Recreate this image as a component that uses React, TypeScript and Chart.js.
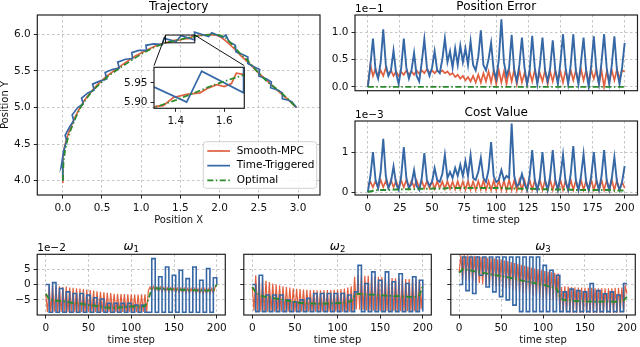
import React, { useEffect, useRef } from 'react';
import { Chart, registerables } from 'chart.js';

Chart.register(...registerables);

// ---------------- data ----------------
const legendLabels = ['Smooth-MPC', 'Time-Triggered', 'Optimal'];

// Trajectory (Position X / Position Y)
const trajOptX = [0.00, 0.01, 0.03, 0.06, 0.10, 0.16, 0.22, 0.30, 0.38, 0.48, 0.58, 0.70, 0.84, 1.00, 1.16, 1.32, 1.40, 1.48, 1.56, 1.64, 1.72, 1.80, 1.92, 2.00, 2.08, 2.16, 2.26, 2.36, 2.48, 2.60, 2.72, 2.84, 2.98];
const trajOptY = [4.00, 4.25, 4.42, 4.56, 4.69, 4.85, 4.99, 5.12, 5.23, 5.33, 5.43, 5.52, 5.62, 5.73, 5.82, 5.888, 5.905, 5.925, 5.945, 5.962, 5.978, 5.99, 6.00, 5.99, 5.95, 5.86, 5.74, 5.64, 5.49, 5.36, 5.26, 5.15, 5.00];
const trajMpcX = [0.00, 0.00, 0.02, 0.05, 0.09, 0.14, 0.20, 0.27, 0.35, 0.44, 0.54, 0.65, 0.78, 0.92, 1.06, 1.20, 1.318, 1.348, 1.39, 1.445, 1.50, 1.53, 1.57, 1.60, 1.63, 1.65, 1.68, 1.76, 1.86, 1.95, 2.02, 2.09, 2.17, 2.27, 2.38, 2.50, 2.62, 2.74, 2.86, 2.98];
const trajMpcY = [3.97, 4.30, 4.45, 4.58, 4.70, 4.83, 4.96, 5.09, 5.20, 5.31, 5.41, 5.50, 5.60, 5.70, 5.78, 5.85, 5.889, 5.891, 5.912, 5.92, 5.924, 5.935, 5.945, 5.94, 5.948, 5.975, 5.972, 5.985, 5.995, 5.99, 5.96, 5.90, 5.82, 5.71, 5.60, 5.47, 5.35, 5.23, 5.12, 5.00];
const trajTtX = [0.00, 0.00, -0.02, 0.01, 0.05, 0.03, 0.09, 0.14, 0.12, 0.19, 0.26, 0.24, 0.32, 0.40, 0.38, 0.47, 0.56, 0.54, 0.63, 0.72, 0.70, 0.80, 0.89, 0.88, 0.97, 1.07, 1.06, 1.16, 1.27, 1.29, 1.445, 1.507, 1.68, 1.68, 1.86, 1.90, 2.04, 2.08, 2.12, 2.20, 2.21, 2.30, 2.36, 2.36, 2.45, 2.51, 2.50, 2.60, 2.66, 2.65, 2.74, 2.80, 2.80, 2.88, 2.92, 2.98];
const trajTtY = [4.00, 4.24, 4.19, 4.40, 4.55, 4.62, 4.74, 4.82, 4.90, 5.00, 5.05, 5.13, 5.20, 5.24, 5.32, 5.36, 5.39, 5.48, 5.52, 5.54, 5.62, 5.66, 5.67, 5.75, 5.78, 5.78, 5.85, 5.87, 5.86, 5.945, 5.90, 5.98, 5.924, 6.03, 5.97, 6.02, 5.96, 5.99, 5.90, 5.85, 5.76, 5.72, 5.69, 5.60, 5.55, 5.52, 5.43, 5.39, 5.35, 5.27, 5.24, 5.20, 5.12, 5.10, 5.08, 5.00];

// Position error (x 1e-1), time steps 0,2,...,200
const posErrTt = [0.0, 0.4, 0.88, 0.3, 0.15, 0.45, 1.05, 0.4, 0.2, 0.3, 0.66, 0.25, 0.05, 0.35, 0.88, 0.35, 0.15, 0.3, 0.62, 0.2, 0.1, 0.45, 0.87, 0.35, 0.2, 0.35, 0.65, 0.3, 0.25, 0.5, 0.88, 0.45, 0.65, 0.35, 0.7, 0.4, 0.75, 0.45, 0.7, 0.4, 0.83, 0.4, 0.3, 0.55, 1.03, 0.4, 0.3, 0.5, 0.8, 0.3, 0.15, 0.5, 1.23, 0.45, 0.2, 0.35, 0.95, 0.3, 0.1, 0.4, 0.9, 0.35, 0.05, 0.3, 0.93, 0.35, 0.05, 0.4, 0.9, 0.3, 0.1, 0.35, 0.85, 0.3, 0.05, 0.45, 0.96, 0.35, 0.05, 0.4, 0.96, 0.3, 0.05, 0.45, 0.9, 0.3, 0.0, 0.4, 0.92, 0.3, 0.05, 0.45, 0.96, 0.35, 0.05, 0.4, 0.92, 0.3, 0.05, 0.35, 0.8];
const posErrMpc = [0.0, 0.4, 0.2, 0.33, 0.18, 0.3, 0.2, 0.35, 0.22, 0.3, 0.2, 0.28, 0.2, 0.27, 0.22, 0.3, 0.22, 0.28, 0.22, 0.3, 0.24, 0.3, 0.25, 0.32, 0.26, 0.3, 0.25, 0.3, 0.26, 0.3, 0.25, 0.28, 0.22, 0.25, 0.18, 0.22, 0.15, 0.2, 0.12, 0.18, 0.1, 0.2, 0.08, 0.22, 0.08, 0.25, 0.1, 0.28, 0.08, 0.3, 0.05, 0.3, 0.08, 0.28, 0.05, 0.3, 0.1, 0.32, 0.05, 0.3, 0.08, 0.25, 0.05, 0.28, 0.1, 0.3, 0.08, 0.25, 0.1, 0.3, 0.05, 0.28, 0.1, 0.3, 0.12, 0.28, 0.08, 0.3, 0.1, 0.3, 0.12, 0.3, 0.1, 0.32, 0.12, 0.3, 0.1, 0.3, 0.15, 0.32, 0.05, 0.3, 0.0, 0.28, 0.1, 0.3, 0.12, 0.32, 0.15, 0.3, 0.28];
const posErrOpt = [0, 0, 0, 0, 0, 0, 0, 0, 0];

// Cost value (x 1e-3)
const costTt = [0.0, 0.4, 1.0, 0.3, 0.1, 0.5, 1.33, 0.4, 0.1, 0.25, 0.64, 0.2, 0.05, 0.4, 1.12, 0.35, 0.1, 0.2, 0.55, 0.15, 0.05, 0.35, 0.97, 0.3, 0.15, 0.25, 0.6, 0.3, 0.25, 0.45, 0.93, 0.35, 0.5, 0.35, 0.6, 0.4, 0.68, 0.4, 0.77, 0.4, 0.92, 0.35, 0.3, 0.5, 0.85, 0.35, 0.25, 0.55, 1.25, 0.4, 0.25, 0.3, 0.55, 0.3, 0.4, 0.35, 1.71, 0.4, 0.15, 0.2, 0.45, 0.2, 0.05, 0.4, 1.05, 0.3, 0.05, 0.35, 1.0, 0.3, 0.05, 0.4, 1.05, 0.3, 0.05, 0.4, 0.93, 0.25, 0.05, 0.45, 1.15, 0.3, 0.05, 0.4, 0.95, 0.25, 0.05, 0.4, 1.0, 0.3, 0.05, 0.4, 1.05, 0.3, 0.05, 0.35, 0.87, 0.25, 0.05, 0.25, 0.65];
const costMpc = [0.18, 0.25, 0.12, 0.28, 0.1, 0.3, 0.12, 0.28, 0.1, 0.3, 0.12, 0.28, 0.1, 0.29, 0.12, 0.3, 0.1, 0.28, 0.12, 0.29, 0.1, 0.28, 0.1, 0.27, 0.1, 0.28, 0.08, 0.27, 0.1, 0.26, 0.08, 0.27, 0.08, 0.26, 0.07, 0.27, 0.07, 0.26, 0.06, 0.27, 0.06, 0.26, 0.05, 0.27, 0.06, 0.28, 0.05, 0.27, 0.05, 0.28, 0.05, 0.29, 0.05, 0.28, 0.04, 0.3, 0.05, 0.29, 0.04, 0.3, 0.05, 0.29, 0.04, 0.3, 0.05, 0.29, 0.04, 0.3, 0.05, 0.29, 0.04, 0.3, 0.05, 0.29, 0.04, 0.3, 0.05, 0.29, 0.04, 0.3, 0.05, 0.29, 0.04, 0.3, 0.05, 0.29, 0.04, 0.3, 0.05, 0.29, 0.04, 0.3, 0.05, 0.29, 0.04, 0.3, 0.05, 0.29, 0.04, 0.25, 0.1];
const costOpt = [0.0, 0.03, 0.05, 0.05, 0.05, 0.06, 0.06, 0.07, 0.07, 0.07, 0.08, 0.08, 0.08, 0.09, 0.09, 0.09, 0.1, 0.1, 0.1, 0.1, 0.1, 0.1, 0.1, 0.1, 0.1, 0.1, 0.1, 0.09, 0.09, 0.09, 0.08, 0.08, 0.08, 0.07, 0.07, 0.07, 0.06, 0.06, 0.06, 0.06, 0.05, 0.05, 0.05, 0.05, 0.05, 0.05, 0.05, 0.05, 0.04, 0.04, 0.04];

// Angular rates (x 1e-2)
const w1Mpc = [-3.0, -9.0, -0.4, -9.0, -0.2, -8.8, -0.5, -9.0, -0.6, -8.9, -0.8, -9.0, -0.7, -9.0, -1.0, -8.9, -1.1, -9.0, -1.2, -9.0, -1.3, -8.9, -1.5, -9.0, -1.6, -9.0, -1.8, -8.9, -2.0, -9.0, -2.2, -9.0, -2.4, -8.9, -2.5, -9.0, -2.7, -9.0, -2.8, -8.9, -3.0, -9.0, -3.0, -9.0, -3.1, -8.9, -3.1, -9.0, -3.2, -9.0, -3.2, -8.9, -3.3, -9.0, -3.3, -9.0, -3.2, -8.9, -3.2, -9.0, -2.0, -0.8, -2.1, -0.7, -2.2, -0.9, -2.3, -0.8, -2.4, -1.0, -2.4, -1.0, -2.5, -1.1, -2.5, -1.1, -2.6, -1.2, -2.6, -1.2, -2.7, -1.2, -2.7, -1.3, -2.8, -1.3, -2.8, -1.3, -2.9, -1.4, -2.9, -1.4, -3.0, -1.4, -3.0, -1.4, -2.9, -1.3, -2.8, -1.0, 0.0];
const w1Tt = [0, -9, 0.6, -9, -1.3, -9, -2.4, -9, -2.9, -9, -2.9, -9, -3.4, -9, -4.3, -9, -4.7, -9, -6.1, -9, -6.1, -9, -6.1, -9, -6.1, -9, -6.7, -9, -6.7, -9, -9, 8.4, -9, 2.5, -9, 5.7, -9, 3, -9, 4.6, -9, 1.9, -9, 5.7, -9, 1.4, -9, 5.2, -9, 2.2, 0];
const w1Opt = [-3, -4.8, -5, -5.2, -5.3, -5.4, -5.6, -5.8, -6, -6.1, -6.2, -6.4, -6.5, -6.7, -6.8, -7, -7.2, -7.4, -7.5, -7.6, -7.6, -7.5, -7.4, -7.3, -7.2, -7.1, -7.2, -7.2, -7.1, -7, -5, -1.3, -1.2, -1.3, -1.4, -1.5, -1.5, -1.6, -1.6, -1.7, -1.7, -1.8, -1.8, -1.8, -1.9, -1.9, -2, -2, -1.9, -1.8, 0];

const w2Mpc = [-1.0, -8.5, 3.0, -8.8, 2.5, -8.8, 1.8, -8.8, 1.2, -8.8, 0.8, -8.8, 0.3, -8.8, 0.0, -8.8, -0.3, -8.8, -0.6, -8.8, -0.8, -8.8, -1.0, -8.8, -1.2, -8.8, -1.4, -8.8, -1.5, -8.8, -1.6, -8.8, -1.7, -8.8, -1.8, -8.8, -1.8, -8.8, -1.9, -8.8, -1.9, -8.8, -1.9, -8.8, -1.8, -8.8, -1.8, -8.8, -1.7, -8.8, -1.6, -8.8, -1.5, -8.8, -1.3, -8.8, -1.0, -8.8, -0.6, -8.8, 2.5, -8.0, 3.0, -8.2, 3.0, -8.3, 2.8, -8.4, 2.8, -8.4, 2.7, -8.5, 2.6, -8.5, 2.5, -8.5, 2.4, -8.6, 2.3, -8.6, 2.2, -8.6, 2.1, -8.6, 2.0, -8.7, 2.0, -8.7, 1.9, -8.7, 1.8, -8.7, 1.8, -8.7, 1.7, -8.7, 1.6, -8.6, 1.5, -8.0, 0.5];
const w2Tt = [0, -8.8, 3, -8.8, -3.4, -8.8, -3.4, -8.8, -3.4, -8.8, -5, -8.8, -5.6, -8.8, -5, -8.8, -4.5, -8.8, -2.9, -8.8, -2.9, -8.8, -2.9, -8.8, -2.9, -8.8, -2.9, -8.8, -3.4, -8.8, -2.4, 6.2, -8.8, 0.3, -8.8, 4.1, -8.8, 1.4, -8.8, 4.1, -8.8, 0.9, -8.8, 3.5, -8.8, 0.3, -8.8, 2.5, -8.8, 1.4, -8.8];
const w2Opt = [-0.8, -2.5, -3.4, -3.8, -4, -4.2, -4.4, -4.6, -4.8, -5, -5.2, -5.4, -5.6, -5.8, -6, -6, -6.1, -6.1, -6.2, -6.2, -6.2, -6.2, -6.2, -6.1, -6.1, -6, -6, -5.8, -5.6, -5.4, -3.5, -3, -3.1, -3.2, -3.3, -3.3, -3.4, -3.5, -3.5, -3.6, -3.7, -3.7, -3.8, -3.8, -3.9, -3.9, -4, -4, -4, -3.5, -0.5];

const w3Mpc = [4.0, 9.5, 1.5, 9.6, 1.3, 9.5, 1.0, 9.4, 0.8, 9.3, 0.6, 9.2, 0.4, 9.0, 0.2, 8.9, 0.0, 8.7, -0.2, 8.6, -0.4, 8.4, -0.6, 8.2, -0.8, 8.0, -1.0, 7.8, -1.2, 7.6, -1.5, 7.3, -1.8, 7.0, -2.1, 6.7, -2.4, 6.4, -2.7, 6.1, -3.0, 5.8, -3.3, 5.5, -3.6, 5.2, -3.9, 4.9, -4.2, 4.6, -4.5, 4.4, -4.7, 4.2, -4.9, 4.0, -5.1, 3.8, -5.3, 3.6, -9.0, -0.8, -9.0, -0.6, -9.1, -0.7, -9.1, -0.8, -9.2, -0.9, -9.2, -1.0, -9.2, -1.0, -9.2, -1.1, -9.2, -1.1, -9.2, -1.1, -9.2, -1.2, -9.2, -1.2, -9.2, -1.2, -9.2, -1.2, -9.2, -1.2, -9.2, -1.2, -9.2, -1.1, -9.2, -1.1, -9.1, -1.0, -9.0, -0.5, -3.0];
const w3Tt = [0, 8.9, -2, 8.9, -2.9, 8.9, 3, 8.9, -0.8, 8.9, -2.4, 8.9, -4, 8.9, -5, 8.9, -6.7, 8.9, -8.8, 8.9, -8.8, 8.9, -8.8, 8.9, -8.8, 6.2, -8.8, 4.6, -8.8, 3, -8.8, -2.4, -8.8, -1.5, -8.8, -2, -8.8, -2.4, -8.8, 0.3, -8.8, -2, -8.8, -3, -8.8, -2.4, -8.8, -3.4, -8.8, 0.3, 0.3];
const w3Opt = [3.8, 5.0, 4.8, 4.6, 4.4, 4.2, 4.0, 3.8, 3.6, 3.4, 3.2, 3.0, 2.8, 2.6, 2.4, 2.2, 2.0, 1.7, 1.5, 1.2, 1.0, 0.8, 0.6, 0.3, 0.1, -0.1, -0.4, -0.7, -1.0, -1.2, -4, -5, -5.1, -5.2, -5.3, -5.4, -5.4, -5.5, -5.5, -5.5, -5.6, -5.6, -5.6, -5.5, -5.5, -5.5, -5.6, -5.6, -5.5, -5.2, -4];

// time steps
const steps2 = Array.from({ length: 101 }, (_, i) => i * 2);
const steps4 = Array.from({ length: 51 }, (_, i) => i * 4);
const steps25 = [0, 25, 50, 75, 100, 125, 150, 175, 200];

// tick values / labels
const trajXTicks = [0, 0.5, 1, 1.5, 2, 2.5, 3];
const trajXLabels = ['0.0', '0.5', '1.0', '1.5', '2.0', '2.5', '3.0'];
const trajYTicks = [4, 4.5, 5, 5.5, 6];
const trajYLabels = ['4.0', '4.5', '5.0', '5.5', '6.0'];
const insetXTicks = [1.4, 1.6];
const insetXLabels = ['1.4', '1.6'];
const insetYTicks = [5.9, 5.95];
const insetYLabels = ['5.90', '5.95'];
const errYTicks = [0, 0.5, 1];
const errYLabels = ['0.0', '0.5', '1.0'];
const costYTicks = [0, 1];
const costYLabels = ['0', '1'];
const stepLabels = ['0', '25', '50', '75', '100', '125', '150', '175', '200'];
const wXTicks = [0, 50, 100, 150, 200];
const wXLabels = ['0', '50', '100', '150', '200'];
const wYTicks = [-5, 0, 5];
const wYLabels = ['\u22125', '0', '5'];

// ---------------- style ----------------
const FONT = "'DejaVu Sans', 'Liberation Sans', sans-serif";
const RED = '#E0603F';
const BLUE = '#3768A6';
const GREEN = '#2B8A2B';
const INK = '#111111';
const GRID = 'rgba(170,170,170,0.85)';
const DASHDOT = [6, 2.5, 1.5, 2.5];

const pts = (xs: number[], ys: number[]) => ys.map((y, i) => ({ x: xs[i], y }));
const ds = (label: string, data: any[], color: string, extra: any = {}) => ({
  label, data, borderColor: color, backgroundColor: color, borderWidth: 1.7,
  pointRadius: 0, pointHoverRadius: 0, tension: 0, fill: false, ...extra,
});

type Spec = {
  left: number; top: number; w: number; h: number;
  padT: number; padR: number; yW: number; xH: number;
  xMin: number; xMax: number; yMin: number; yMax: number;
  xTicks: number[]; xLabels: string[] | null;
  yTicks: number[]; yLabels: string[] | null;
  grid: boolean;
  xTitle?: string; xTitlePad?: number;
  yTitle?: string;
  title?: string; omega?: string; titleGap?: number;
  offsetText?: string;
  datasets: any[];
  whiteArea?: boolean;
  legend?: boolean;
  insetMark?: { x0: number; x1: number; y0: number; y1: number; l: number; t: number; r: number };
};

function decor(s: Spec) {
  return {
    id: 'decor',
    beforeDraw(chart: any) {
      if (!s.whiteArea) return;
      const { ctx, chartArea: a } = chart;
      ctx.save();
      ctx.fillStyle = '#ffffff';
      ctx.fillRect(a.left, a.top, a.right - a.left, a.bottom - a.top);
      ctx.restore();
    },
    afterDraw(chart: any) {
      const { ctx, chartArea: a } = chart;
      ctx.save();
      const cx = (a.left + a.right) / 2;
      ctx.fillStyle = '#000';
      if (s.title) {
        ctx.font = `12px ${FONT}`;
        ctx.textAlign = 'center';
        ctx.textBaseline = 'alphabetic';
        ctx.fillText(s.title, cx, a.top - (s.titleGap ?? 5));
      }
      if (s.omega) {
        ctx.font = `italic 12px ${FONT}`;
        const w1 = ctx.measureText('\u03c9').width;
        ctx.font = `8.5px ${FONT}`;
        const w2 = ctx.measureText(s.omega).width;
        const x0 = cx - (w1 + w2) / 2;
        const by = a.top - (s.titleGap ?? 5);
        ctx.textAlign = 'left';
        ctx.textBaseline = 'alphabetic';
        ctx.font = `italic 12px ${FONT}`;
        ctx.fillText('\u03c9', x0, by);
        ctx.font = `8.5px ${FONT}`;
        ctx.fillText(s.omega, x0 + w1, by + 2.5);
      }
      if (s.offsetText) {
        ctx.font = `10.5px ${FONT}`;
        ctx.textAlign = 'left';
        ctx.textBaseline = 'alphabetic';
        ctx.fillText(s.offsetText, a.left, a.top - 3);
      }
      if (s.legend) {
        const bx = a.right - 116.7, by = a.bottom - 53.3, bw = 113.4, bh = 46.6;
        ctx.beginPath();
        ctx.roundRect(bx, by, bw, bh, 3);
        ctx.fillStyle = 'rgba(255,255,255,0.85)';
        ctx.fill();
        ctx.strokeStyle = '#d0d0d0';
        ctx.lineWidth = 1;
        ctx.stroke();
        const cols = [RED, BLUE, GREEN];
        legendLabels.forEach((lab, i) => {
          const y = by + 9.3 + i * 14.65;
          ctx.beginPath();
          ctx.strokeStyle = cols[i];
          ctx.lineWidth = 1.7;
          ctx.setLineDash(i === 2 ? DASHDOT : []);
          ctx.moveTo(bx + 4, y);
          ctx.lineTo(bx + 26.7, y);
          ctx.stroke();
          ctx.setLineDash([]);
          ctx.fillStyle = '#000';
          ctx.font = `10.5px ${FONT}`;
          ctx.textAlign = 'left';
          ctx.textBaseline = 'middle';
          ctx.fillText(lab, bx + 33.4, y);
        });
      }
      if (s.insetMark) {
        const m = s.insetMark;
        const xs = chart.scales.x, ys = chart.scales.y;
        const px0 = xs.getPixelForValue(m.x0), px1 = xs.getPixelForValue(m.x1);
        const py0 = ys.getPixelForValue(m.y0), py1 = ys.getPixelForValue(m.y1);
        ctx.strokeStyle = '#111';
        ctx.lineWidth = 1;
        ctx.setLineDash([]);
        ctx.strokeRect(px0, py1, px1 - px0, py0 - py1);
        ctx.beginPath();
        ctx.moveTo(px0, py1);
        ctx.lineTo(m.l, m.t);
        ctx.moveTo(px1, py1);
        ctx.lineTo(m.r, m.t);
        ctx.stroke();
      }
      ctx.strokeStyle = '#222';
      ctx.lineWidth = 1.2;
      ctx.setLineDash([]);
      ctx.strokeRect(a.left, a.top, a.right - a.left, a.bottom - a.top);
      ctx.restore();
    },
  };
}

function makeConfig(s: Spec): any {
  const tickFont = { family: FONT, size: 10.5 };
  const axisTitleFont = { family: FONT, size: 10, lineHeight: 1 };
  const gridOpts = {
    display: true, drawOnChartArea: s.grid, drawTicks: true, tickLength: 3.5,
    color: GRID, lineWidth: 0.8, tickColor: '#222', tickWidth: 1,
  };
  return {
    type: 'line',
    data: { datasets: s.datasets },
    options: {
      responsive: false,
      animation: false,
      devicePixelRatio: 1,
      events: [],
      layout: { autoPadding: false, padding: { left: 0, top: s.padT, right: s.padR, bottom: 0 } },
      plugins: { legend: { display: false }, tooltip: { enabled: false }, title: { display: false } },
      scales: {
        x: {
          type: 'linear', position: 'bottom', min: s.xMin, max: s.xMax,
          afterBuildTicks: (sc: any) => { sc.ticks = s.xTicks.map((v) => ({ value: v })); },
          afterFit: (sc: any) => { sc.height = s.xH; },
          ticks: {
            display: !!s.xLabels, autoSkip: false, maxRotation: 0, minRotation: 0, padding: 3,
            color: INK, font: tickFont,
            callback: (_v: any, i: number) => (s.xLabels ? s.xLabels[i] : ''),
          },
          grid: gridOpts,
          border: { display: false, dash: [2.5, 2.5] },
          title: s.xTitle
            ? { display: true, text: s.xTitle, color: INK, font: axisTitleFont, padding: { top: 0, bottom: s.xTitlePad ?? 2 } }
            : { display: false },
        },
        y: {
          type: 'linear', position: 'left', min: s.yMin, max: s.yMax,
          afterBuildTicks: (sc: any) => { sc.ticks = s.yTicks.map((v) => ({ value: v })); },
          afterFit: (sc: any) => { sc.width = s.yW; },
          ticks: {
            display: !!s.yLabels, autoSkip: false, padding: 3, color: INK, font: tickFont,
            callback: (_v: any, i: number) => (s.yLabels ? s.yLabels[i] : ''),
          },
          grid: gridOpts,
          border: { display: false, dash: [2.5, 2.5] },
          title: s.yTitle
            ? { display: true, text: s.yTitle, color: INK, font: axisTitleFont, padding: { top: 0, bottom: 0 } }
            : { display: false },
        },
      },
    },
    plugins: [decor(s)],
  };
}

function Panel({ spec }: { spec: Spec }) {
  const ref = useRef<HTMLCanvasElement | null>(null);
  useEffect(() => {
    if (!ref.current) return;
    const chart = new Chart(ref.current, makeConfig(spec));
    return () => chart.destroy();
  }, [spec]);
  return (
    <canvas
      ref={ref}
      width={spec.w}
      height={spec.h}
      style={{ position: 'absolute', left: spec.left, top: spec.top, width: spec.w, height: spec.h }}
    />
  );
}

// ---------------- datasets ----------------
const trajSets = () => [
  ds(legendLabels[2], pts(trajOptX, trajOptY), GREEN, { borderDash: DASHDOT }),
  ds(legendLabels[1], pts(trajTtX, trajTtY), BLUE),
  ds(legendLabels[0], pts(trajMpcX, trajMpcY), RED),
];
const errSets = [
  ds(legendLabels[2], pts(steps25, posErrOpt), GREEN, { borderDash: DASHDOT }),
  ds(legendLabels[1], pts(steps2, posErrTt), BLUE, { borderWidth: 1.9 }),
  ds(legendLabels[0], pts(steps2, posErrMpc), RED),
];
const costSets = [
  ds(legendLabels[2], pts(steps4, costOpt), GREEN, { borderDash: DASHDOT, borderWidth: 2 }),
  ds(legendLabels[1], pts(steps2, costTt), BLUE, { borderWidth: 1.9 }),
  ds(legendLabels[0], pts(steps2, costMpc), RED),
];
const omegaSets = (mpc: number[], tt: number[], opt: number[]) => [
  ds(legendLabels[2], pts(steps4, opt), GREEN, { borderDash: DASHDOT, borderWidth: 1.8 }),
  ds(legendLabels[1], pts(steps4, tt), BLUE, { stepped: 'before', borderWidth: 1.6 }),
  ds(legendLabels[0], pts(steps2, mpc), RED, { borderWidth: 1.2 }),
];

const INSET = { l: 154, t: 65.7, r: 244.3, b: 108.3 };

const specs: Spec[] = [
  {
    left: 0, top: 0, w: 325, h: 232, padT: 15, padR: 5, yW: 37.3, xH: 37,
    xMin: -0.325, xMax: 3.28, yMin: 3.805, yMax: 6.264,
    xTicks: trajXTicks, xLabels: trajXLabels, yTicks: trajYTicks, yLabels: trajYLabels,
    grid: true, xTitle: 'Position X', xTitlePad: 6.3, yTitle: 'Position Y',
    title: 'Trajectory', titleGap: 5, datasets: trajSets(), legend: true,
    insetMark: { x0: 1.31, x1: 1.683, y0: 5.884, y1: 5.99, l: INSET.l, t: INSET.t, r: INSET.r },
  },
  {
    left: 114, top: 58, w: 136, h: 70, padT: INSET.t - 58, padR: 250 - INSET.r, yW: INSET.l - 114, xH: 128 - INSET.b,
    xMin: 1.31, xMax: 1.683, yMin: 5.884, yMax: 5.99,
    xTicks: insetXTicks, xLabels: insetXLabels, yTicks: insetYTicks, yLabels: insetYLabels,
    grid: false, datasets: trajSets(), whiteArea: true,
  },
  {
    left: 320, top: 0, w: 320, h: 100, padT: 15, padR: 2.5, yW: 35, xH: 9,
    xMin: -10, xMax: 210, yMin: -0.07, yMax: 1.31,
    xTicks: steps25, xLabels: null, yTicks: errYTicks, yLabels: errYLabels,
    grid: true, title: 'Position Error', titleGap: 5, offsetText: '1e\u22121', datasets: errSets,
  },
  {
    left: 320, top: 100, w: 320, h: 128, padT: 21, padR: 2.5, yW: 35, xH: 33,
    xMin: -10, xMax: 210, yMin: -0.075, yMax: 1.775,
    xTicks: steps25, xLabels: stepLabels, yTicks: costYTicks, yLabels: costYLabels,
    grid: true, xTitle: 'time step', xTitlePad: 3, title: 'Cost Value', titleGap: 5.5,
    offsetText: '1e\u22123', datasets: costSets,
  },
  {
    left: 0, top: 240, w: 230, h: 107, padT: 14.3, padR: 4.7, yW: 37.2, xH: 32,
    xMin: -10, xMax: 210, yMin: -9.9, yMax: 9.8,
    xTicks: wXTicks, xLabels: wXLabels, yTicks: wYTicks, yLabels: wYLabels,
    grid: true, xTitle: 'time step', xTitlePad: 2, omega: '1', titleGap: 4.5,
    offsetText: '1e\u22122', datasets: omegaSets(w1Mpc, w1Tt, w1Opt),
  },
  {
    left: 232, top: 240, w: 204, h: 107, padT: 14.3, padR: 4.1, yW: 11.8, xH: 32,
    xMin: -10, xMax: 210, yMin: -9.9, yMax: 9.8,
    xTicks: wXTicks, xLabels: wXLabels, yTicks: wYTicks, yLabels: null,
    grid: true, xTitle: 'time step', xTitlePad: 2, omega: '2', titleGap: 4.5,
    datasets: omegaSets(w2Mpc, w2Tt, w2Opt),
  },
  {
    left: 440, top: 240, w: 200, h: 107, padT: 14.3, padR: 1.5, yW: 10.8, xH: 32,
    xMin: -10, xMax: 210, yMin: -9.9, yMax: 9.8,
    xTicks: wXTicks, xLabels: wXLabels, yTicks: wYTicks, yLabels: null,
    grid: true, xTitle: 'time step', xTitlePad: 2, omega: '3', titleGap: 4.5,
    datasets: omegaSets(w3Mpc, w3Tt, w3Opt),
  },
];

export default function App() {
  return (
    <div style={{ position: 'fixed', left: 0, top: 0, width: 640, height: 347, background: '#ffffff', overflow: 'hidden' }}>
      {specs.map((s, i) => (
        <Panel key={i} spec={s} />
      ))}
    </div>
  );
}
